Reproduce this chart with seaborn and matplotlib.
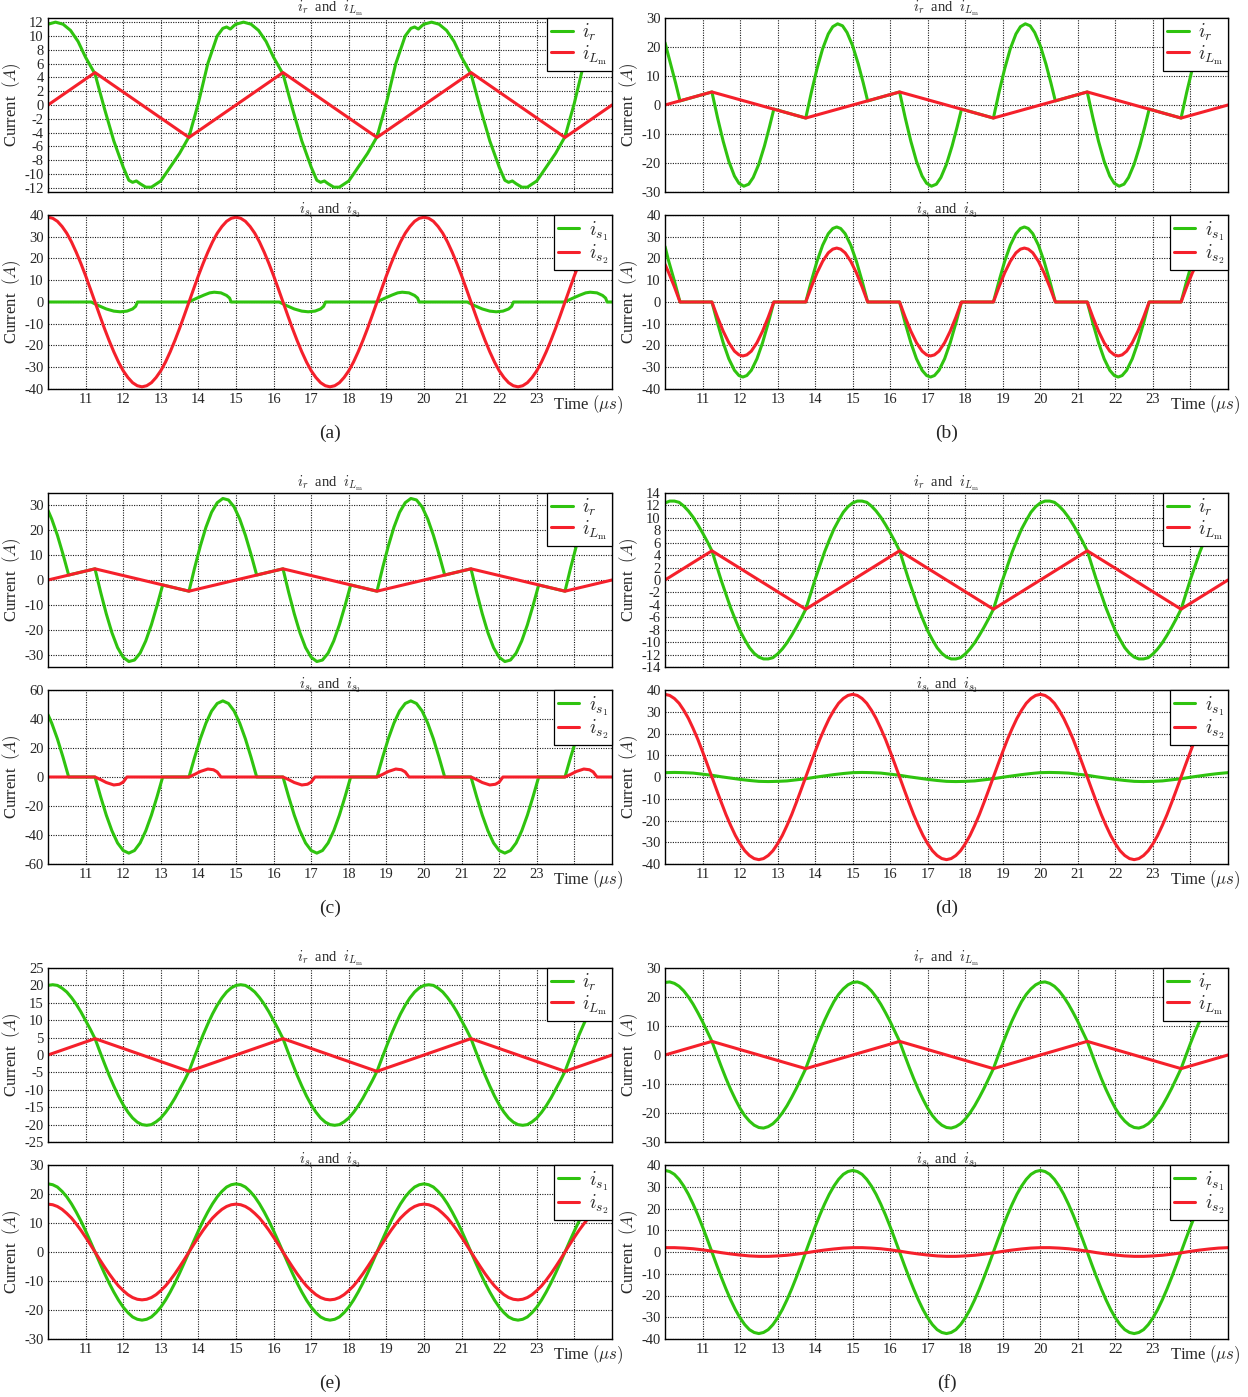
import matplotlib
matplotlib.use("Agg")
import matplotlib.pyplot as plt
import seaborn as sns
from matplotlib.transforms import blended_transform_factory

# ---------------- data ----------------
# sampling instants (us)
t_grid = [round(10 + 0.25 * k, 3) for k in range(61)]
t_fine = [round(10 + 0.125 * k, 3) for k in range(121)]

# magnetising current (triangle) vertices
lm_x = [10.0, 11.25, 13.75, 16.25, 18.75, 21.25, 23.75, 25.0]
lm_a = [0.0, 4.7, -4.7, 4.7, -4.7, 4.7, -4.7, 0.0]
lm_b = [0.0, 4.5, -4.5, 4.5, -4.5, 4.5, -4.5, 0.0]
lm_c = [0.0, 4.5, -4.5, 4.5, -4.5, 4.5, -4.5, 0.0]
lm_d = [0.0, 4.7, -4.7, 4.7, -4.7, 4.7, -4.7, 0.0]
lm_e = [0.0, 4.7, -4.7, 4.7, -4.7, 4.7, -4.7, 0.0]
lm_f = [0.0, 4.7, -4.7, 4.7, -4.7, 4.7, -4.7, 0.0]

# ---- (a)
a_ir_x = [10.0, 10.2, 10.4, 10.6, 10.8, 11.0, 11.25, 11.5, 11.75, 12.0, 12.15, 12.25, 12.35, 12.45,
          12.6, 12.75, 13.0, 13.25, 13.5, 13.75, 14.0, 14.25, 14.5, 14.65, 14.75, 14.85, 14.95,
          15.0, 15.2, 15.4, 15.6, 15.8, 16.0, 16.25, 16.5, 16.75, 17.0, 17.15, 17.25, 17.35, 17.45,
          17.6, 17.75, 18.0, 18.25, 18.5, 18.75, 19.0, 19.25, 19.5, 19.65, 19.75, 19.85, 19.95,
          20.0, 20.2, 20.4, 20.6, 20.8, 21.0, 21.25, 21.5, 21.75, 22.0, 22.15, 22.25, 22.35, 22.45,
          22.6, 22.75, 23.0, 23.25, 23.5, 23.75, 24.0, 24.25, 24.5, 24.65, 24.75, 24.85, 24.95, 25.0]
a_ir_y = [11.7, 12.0, 11.7, 10.8, 9.2, 6.9, 4.5, -0.5, -5.2, -9.0, -10.9, -11.2, -11.0, -11.4,
          -11.9, -11.9, -11.0, -9.0, -7.0, -4.6, 0.3, 6.0, 10.0, 11.1, 11.3, 11.0, 11.5,
          11.7, 12.0, 11.7, 10.8, 9.2, 6.9, 4.5, -0.5, -5.2, -9.0, -10.9, -11.2, -11.0, -11.4,
          -11.9, -11.9, -11.0, -9.0, -7.0, -4.6, 0.3, 6.0, 10.0, 11.1, 11.3, 11.0, 11.5,
          11.7, 12.0, 11.7, 10.8, 9.2, 6.9, 4.5, -0.5, -5.2, -9.0, -10.9, -11.2, -11.0, -11.4,
          -11.9, -11.9, -11.0, -9.0, -7.0, -4.6, 0.3, 6.0, 10.0, 11.1, 11.3, 11.0, 11.5, 11.7]
a_is1_x = [10.0, 11.15, 11.35, 11.55, 11.75, 11.92, 12.1, 12.25, 12.33, 12.38,
           13.74, 13.95, 14.15, 14.3, 14.42, 14.6, 14.75, 14.83, 14.87,
           15.0, 16.15, 16.35, 16.55, 16.75, 16.92, 17.1, 17.25, 17.33, 17.38,
           18.74, 18.95, 19.15, 19.3, 19.42, 19.6, 19.75, 19.83, 19.87,
           20.0, 21.15, 21.35, 21.55, 21.75, 21.92, 22.1, 22.25, 22.33, 22.38,
           23.74, 23.95, 24.15, 24.3, 24.42, 24.6, 24.75, 24.83, 24.87, 25.0]
a_is1_y = [0.0, 0.0, -1.7, -3.2, -4.2, -4.5, -4.2, -3.2, -2.0, 0.0,
           0.0, 1.7, 3.2, 4.2, 4.5, 4.2, 3.0, 1.8, 0.0,
           0.0, 0.0, -1.7, -3.2, -4.2, -4.5, -4.2, -3.2, -2.0, 0.0,
           0.0, 1.7, 3.2, 4.2, 4.5, 4.2, 3.0, 1.8, 0.0,
           0.0, 0.0, -1.7, -3.2, -4.2, -4.5, -4.2, -3.2, -2.0, 0.0,
           0.0, 1.7, 3.2, 4.2, 4.5, 4.2, 3.0, 1.8, 0.0, 0.0]
a_is2_y = [39.0, 38.5, 37.1, 34.7, 31.6, 27.6, 22.9, 17.7, 12.1, 6.1, 0.0, -6.1, -12.1, -17.7, -22.9, -27.6, -31.6, -34.7, -37.1, -38.5,
           -39.0, -38.5, -37.1, -34.7, -31.6, -27.6, -22.9, -17.7, -12.1, -6.1, 0.0, 6.1, 12.1, 17.7, 22.9, 27.6, 31.6, 34.7, 37.1, 38.5,
           39.0, 38.5, 37.1, 34.7, 31.6, 27.6, 22.9, 17.7, 12.1, 6.1, 0.0, -6.1, -12.1, -17.7, -22.9, -27.6, -31.6, -34.7, -37.1, -38.5,
           -39.0, -38.5, -37.1, -34.7, -31.6, -27.6, -22.9, -17.7, -12.1, -6.1, 0.0, 6.1, 12.1, 17.7, 22.9, 27.6, 31.6, 34.7, 37.1, 38.5,
           39.0, 38.5, 37.1, 34.7, 31.6, 27.6, 22.9, 17.7, 12.1, 6.1, 0.0, -6.1, -12.1, -17.7, -22.9, -27.6, -31.6, -34.7, -37.1, -38.5,
           -39.0, -38.5, -37.1, -34.7, -31.6, -27.6, -22.9, -17.7, -12.1, -6.1, 0.0, 6.1, 12.1, 17.7, 22.9, 27.6, 31.6, 34.7, 37.1, 38.5,
           39.0]

# ---- (b)
b_ir_x = [10.0, 10.15, 10.28, 10.4,
          11.25, 11.4, 11.55, 11.7, 11.85, 11.97, 12.1, 12.23, 12.35, 12.5, 12.65, 12.78, 12.9,
          13.75, 13.9, 14.05, 14.2, 14.35, 14.47, 14.6, 14.73, 14.85, 15.0, 15.15, 15.28, 15.4,
          16.25, 16.4, 16.55, 16.7, 16.85, 16.97, 17.1, 17.23, 17.35, 17.5, 17.65, 17.78, 17.9,
          18.75, 18.9, 19.05, 19.2, 19.35, 19.47, 19.6, 19.73, 19.85, 20.0, 20.15, 20.28, 20.4,
          21.25, 21.4, 21.55, 21.7, 21.85, 21.97, 22.1, 22.23, 22.35, 22.5, 22.65, 22.78, 22.9,
          23.75, 23.9, 24.05, 24.2, 24.35, 24.47, 24.6, 24.73, 24.85, 25.0]
b_ir_y = [21.5, 14.1, 7.7, 1.4,
          4.5, -4.4, -12.5, -19.4, -24.5, -27.0, -28.0, -27.3, -25.0, -20.4, -14.1, -7.7, -1.4,
          -4.5, 4.4, 12.5, 19.4, 24.5, 27.0, 28.0, 27.3, 25.0, 20.4, 14.1, 7.7, 1.4,
          4.5, -4.4, -12.5, -19.4, -24.5, -27.0, -28.0, -27.3, -25.0, -20.4, -14.1, -7.7, -1.4,
          -4.5, 4.4, 12.5, 19.4, 24.5, 27.0, 28.0, 27.3, 25.0, 20.4, 14.1, 7.7, 1.4,
          4.5, -4.4, -12.5, -19.4, -24.5, -27.0, -28.0, -27.3, -25.0, -20.4, -14.1, -7.7, -1.4,
          -4.5, 4.4, 12.5, 19.4, 24.5, 27.0, 28.0, 27.3, 25.0, 21.0]
b_is_x = [10.0, 10.1, 10.25, 10.4,
          11.25, 11.4, 11.55, 11.7, 11.85, 11.97, 12.075, 12.18, 12.3, 12.45, 12.6, 12.75, 12.9,
          13.75, 13.9, 14.05, 14.2, 14.35, 14.47, 14.575, 14.68, 14.8, 14.95, 15.1, 15.25, 15.4,
          16.25, 16.4, 16.55, 16.7, 16.85, 16.97, 17.075, 17.18, 17.3, 17.45, 17.6, 17.75, 17.9,
          18.75, 18.9, 19.05, 19.2, 19.35, 19.47, 19.575, 19.68, 19.8, 19.95, 20.1, 20.25, 20.4,
          21.25, 21.4, 21.55, 21.7, 21.85, 21.97, 22.075, 22.18, 22.3, 22.45, 22.6, 22.75, 22.9,
          23.75, 23.9, 24.05, 24.2, 24.35, 24.47, 24.575, 24.68, 24.8, 24.95, 25.0]
b_is1_y = [25.5, 18.7, 9.7, 0.0,
           0.0, -9.7, -18.7, -26.1, -31.4, -33.8, -34.5, -33.8, -31.4, -26.1, -18.7, -9.7, 0.0,
           0.0, 9.7, 18.7, 26.1, 31.4, 33.8, 34.5, 33.8, 31.4, 26.1, 18.7, 9.7, 0.0,
           0.0, -9.7, -18.7, -26.1, -31.4, -33.8, -34.5, -33.8, -31.4, -26.1, -18.7, -9.7, 0.0,
           0.0, 9.7, 18.7, 26.1, 31.4, 33.8, 34.5, 33.8, 31.4, 26.1, 18.7, 9.7, 0.0,
           0.0, -9.7, -18.7, -26.1, -31.4, -33.8, -34.5, -33.8, -31.4, -26.1, -18.7, -9.7, 0.0,
           0.0, 9.7, 18.7, 26.1, 31.4, 33.8, 34.5, 33.8, 31.4, 26.1, 24.0]
b_is2_y = [17.3, 13.4, 7.0, 0.0,
           0.0, -7.0, -13.4, -18.7, -22.6, -24.3, -24.8, -24.3, -22.6, -18.7, -13.4, -7.0, 0.0,
           0.0, 7.0, 13.4, 18.7, 22.6, 24.3, 24.8, 24.3, 22.6, 18.7, 13.4, 7.0, 0.0,
           0.0, -7.0, -13.4, -18.7, -22.6, -24.3, -24.8, -24.3, -22.6, -18.7, -13.4, -7.0, 0.0,
           0.0, 7.0, 13.4, 18.7, 22.6, 24.3, 24.8, 24.3, 22.6, 18.7, 13.4, 7.0, 0.0,
           0.0, -7.0, -13.4, -18.7, -22.6, -24.3, -24.8, -24.3, -22.6, -18.7, -13.4, -7.0, 0.0,
           0.0, 7.0, 13.4, 18.7, 22.6, 24.3, 24.8, 24.3, 22.6, 18.7, 17.3]

# ---- (c)
c_x = [10.0, 10.1, 10.25, 10.4, 10.55,
       11.25, 11.4, 11.55, 11.7, 11.85, 12.0, 12.15, 12.3, 12.45, 12.6, 12.75, 12.9, 13.05,
       13.75, 13.9, 14.05, 14.2, 14.35, 14.5, 14.65, 14.8, 14.95, 15.1, 15.25, 15.4, 15.55,
       16.25, 16.4, 16.55, 16.7, 16.85, 17.0, 17.15, 17.3, 17.45, 17.6, 17.75, 17.9, 18.05,
       18.75, 18.9, 19.05, 19.2, 19.35, 19.5, 19.65, 19.8, 19.95, 20.1, 20.25, 20.4, 20.55,
       21.25, 21.4, 21.55, 21.7, 21.85, 22.0, 22.15, 22.3, 22.45, 22.6, 22.75, 22.9, 23.05,
       23.75, 23.9, 24.05, 24.2, 24.35, 24.5, 24.65, 24.8, 24.95, 25.0]
c_ir_y = [28.0, 24.5, 18.0, 10.3, 2.0,
          4.5, -4.9, -13.6, -21.2, -27.2, -31.1, -32.8, -32.2, -29.4, -24.5, -18.0, -10.3, -2.0,
          -4.5, 4.9, 13.6, 21.2, 27.2, 31.1, 32.8, 32.2, 29.4, 24.5, 18.0, 10.3, 2.0,
          4.5, -4.9, -13.6, -21.2, -27.2, -31.1, -32.8, -32.2, -29.4, -24.5, -18.0, -10.3, -2.0,
          -4.5, 4.9, 13.6, 21.2, 27.2, 31.1, 32.8, 32.2, 29.4, 24.5, 18.0, 10.3, 2.0,
          4.5, -4.9, -13.6, -21.2, -27.2, -31.1, -32.8, -32.2, -29.4, -24.5, -18.0, -10.3, -2.0,
          -4.5, 4.9, 13.6, 21.2, 27.2, 31.1, 32.8, 32.2, 29.4, 28.0]
c_is1_y = [43.0, 37.1, 26.3, 13.6, 0.0,
           0.0, -13.6, -26.3, -37.1, -45.5, -50.7, -52.5, -50.7, -45.5, -37.1, -26.3, -13.6, 0.0,
           0.0, 13.6, 26.3, 37.1, 45.5, 50.7, 52.5, 50.7, 45.5, 37.1, 26.3, 13.6, 0.0,
           0.0, -13.6, -26.3, -37.1, -45.5, -50.7, -52.5, -50.7, -45.5, -37.1, -26.3, -13.6, 0.0,
           0.0, 13.6, 26.3, 37.1, 45.5, 50.7, 52.5, 50.7, 45.5, 37.1, 26.3, 13.6, 0.0,
           0.0, -13.6, -26.3, -37.1, -45.5, -50.7, -52.5, -50.7, -45.5, -37.1, -26.3, -13.6, 0.0,
           0.0, 13.6, 26.3, 37.1, 45.5, 50.7, 52.5, 50.7, 45.5, 43.0]
c_is2_x = [10.0, 11.25, 11.4, 11.55, 11.75, 11.9, 12.0, 12.1,
           13.75, 13.9, 14.05, 14.25, 14.4, 14.5, 14.6,
           16.25, 16.4, 16.55, 16.75, 16.9, 17.0, 17.1,
           18.75, 18.9, 19.05, 19.25, 19.4, 19.5, 19.6,
           21.25, 21.4, 21.55, 21.75, 21.9, 22.0, 22.1,
           23.75, 23.9, 24.05, 24.25, 24.4, 24.5, 24.6, 25.0]
c_is2_y = [0.0, 0.0, -1.8, -3.8, -5.5, -5.0, -3.5, 0.0,
           0.0, 1.8, 3.8, 5.5, 5.0, 3.5, 0.0,
           0.0, -1.8, -3.8, -5.5, -5.0, -3.5, 0.0,
           0.0, 1.8, 3.8, 5.5, 5.0, 3.5, 0.0,
           0.0, -1.8, -3.8, -5.5, -5.0, -3.5, 0.0,
           0.0, 1.8, 3.8, 5.5, 5.0, 3.5, 0.0, 0.0]

# ---- (d)
d_ir_y = [12.4, 12.7, 12.7, 12.5, 11.9, 11.1, 10.1, 8.9, 7.6, 6.2, 4.7, 2.3, -0.1, -2.3, -4.5, -6.4, -8.2, -9.6, -10.9, -11.8,
          -12.4, -12.7, -12.7, -12.5, -11.9, -11.1, -10.1, -8.9, -7.6, -6.2, -4.7, -2.3, 0.1, 2.3, 4.5, 6.4, 8.2, 9.6, 10.9, 11.8,
          12.4, 12.7, 12.7, 12.5, 11.9, 11.1, 10.1, 8.9, 7.6, 6.2, 4.7, 2.3, -0.1, -2.3, -4.5, -6.4, -8.2, -9.6, -10.9, -11.8,
          -12.4, -12.7, -12.7, -12.5, -11.9, -11.1, -10.1, -8.9, -7.6, -6.2, -4.7, -2.3, 0.1, 2.3, 4.5, 6.4, 8.2, 9.6, 10.9, 11.8,
          12.4, 12.7, 12.7, 12.5, 11.9, 11.1, 10.1, 8.9, 7.6, 6.2, 4.7, 2.3, -0.1, -2.3, -4.5, -6.4, -8.2, -9.6, -10.9, -11.8,
          -12.4, -12.7, -12.7, -12.5, -11.9, -11.1, -10.1, -8.9, -7.6, -6.2, -4.7, -2.3, 0.1, 2.3, 4.5, 6.4, 8.2, 9.6, 10.9, 11.8,
          12.4]
d_is1_y = [2.0, 2.1, 2.0, 1.8, 1.3, 0.8, 0.1, -0.5, -1.1, -1.6,
           -2.0, -2.1, -2.0, -1.8, -1.3, -0.8, -0.1, 0.5, 1.1, 1.6,
           2.0, 2.1, 2.0, 1.8, 1.3, 0.8, 0.1, -0.5, -1.1, -1.6,
           -2.0, -2.1, -2.0, -1.8, -1.3, -0.8, -0.1, 0.5, 1.1, 1.6,
           2.0, 2.1, 2.0, 1.8, 1.3, 0.8, 0.1, -0.5, -1.1, -1.6,
           -2.0, -2.1, -2.0, -1.8, -1.3, -0.8, -0.1, 0.5, 1.1, 1.6, 2.0]
d_is2_y = [38.0, 37.5, 36.1, 33.9, 30.7, 26.9, 22.3, 17.3, 11.7, 5.9, 0.0, -5.9, -11.7, -17.3, -22.3, -26.9, -30.7, -33.9, -36.1, -37.5,
           -38.0, -37.5, -36.1, -33.9, -30.7, -26.9, -22.3, -17.3, -11.7, -5.9, 0.0, 5.9, 11.7, 17.3, 22.3, 26.9, 30.7, 33.9, 36.1, 37.5,
           38.0, 37.5, 36.1, 33.9, 30.7, 26.9, 22.3, 17.3, 11.7, 5.9, 0.0, -5.9, -11.7, -17.3, -22.3, -26.9, -30.7, -33.9, -36.1, -37.5,
           -38.0, -37.5, -36.1, -33.9, -30.7, -26.9, -22.3, -17.3, -11.7, -5.9, 0.0, 5.9, 11.7, 17.3, 22.3, 26.9, 30.7, 33.9, 36.1, 37.5,
           38.0, 37.5, 36.1, 33.9, 30.7, 26.9, 22.3, 17.3, 11.7, 5.9, 0.0, -5.9, -11.7, -17.3, -22.3, -26.9, -30.7, -33.9, -36.1, -37.5,
           -38.0, -37.5, -36.1, -33.9, -30.7, -26.9, -22.3, -17.3, -11.7, -5.9, 0.0, 5.9, 11.7, 17.3, 22.3, 26.9, 30.7, 33.9, 36.1, 37.5,
           38.0]

# ---- (e)
e_ir_y = [20.0, 20.2, 20.0, 19.2, 18.1, 16.5, 14.6, 12.4, 9.9, 7.4, 4.7, 1.1, -2.4, -5.8, -8.9, -11.8, -14.3, -16.4, -18.1, -19.3,
          -20.0, -20.2, -20.0, -19.2, -18.1, -16.5, -14.6, -12.4, -9.9, -7.4, -4.7, -1.1, 2.4, 5.8, 8.9, 11.8, 14.3, 16.4, 18.1, 19.3,
          20.0, 20.2, 20.0, 19.2, 18.1, 16.5, 14.6, 12.4, 9.9, 7.4, 4.7, 1.1, -2.4, -5.8, -8.9, -11.8, -14.3, -16.4, -18.1, -19.3,
          -20.0, -20.2, -20.0, -19.2, -18.1, -16.5, -14.6, -12.4, -9.9, -7.4, -4.7, -1.1, 2.4, 5.8, 8.9, 11.8, 14.3, 16.4, 18.1, 19.3,
          20.0, 20.2, 20.0, 19.2, 18.1, 16.5, 14.6, 12.4, 9.9, 7.4, 4.7, 1.1, -2.4, -5.8, -8.9, -11.8, -14.3, -16.4, -18.1, -19.3,
          -20.0, -20.2, -20.0, -19.2, -18.1, -16.5, -14.6, -12.4, -9.9, -7.4, -4.7, -1.1, 2.4, 5.8, 8.9, 11.8, 14.3, 16.4, 18.1, 19.3,
          20.0]
e_is1_y = [23.5, 23.2, 22.4, 20.9, 19.0, 16.6, 13.8, 10.7, 7.3, 3.7, 0.0, -3.7, -7.3, -10.7, -13.8, -16.6, -19.0, -20.9, -22.4, -23.2,
           -23.5, -23.2, -22.4, -20.9, -19.0, -16.6, -13.8, -10.7, -7.3, -3.7, 0.0, 3.7, 7.3, 10.7, 13.8, 16.6, 19.0, 20.9, 22.4, 23.2,
           23.5, 23.2, 22.4, 20.9, 19.0, 16.6, 13.8, 10.7, 7.3, 3.7, 0.0, -3.7, -7.3, -10.7, -13.8, -16.6, -19.0, -20.9, -22.4, -23.2,
           -23.5, -23.2, -22.4, -20.9, -19.0, -16.6, -13.8, -10.7, -7.3, -3.7, 0.0, 3.7, 7.3, 10.7, 13.8, 16.6, 19.0, 20.9, 22.4, 23.2,
           23.5, 23.2, 22.4, 20.9, 19.0, 16.6, 13.8, 10.7, 7.3, 3.7, 0.0, -3.7, -7.3, -10.7, -13.8, -16.6, -19.0, -20.9, -22.4, -23.2,
           -23.5, -23.2, -22.4, -20.9, -19.0, -16.6, -13.8, -10.7, -7.3, -3.7, 0.0, 3.7, 7.3, 10.7, 13.8, 16.6, 19.0, 20.9, 22.4, 23.2,
           23.5]
e_is2_y = [16.5, 16.3, 15.7, 14.7, 13.3, 11.7, 9.7, 7.5, 5.1, 2.6, 0.0, -2.6, -5.1, -7.5, -9.7, -11.7, -13.3, -14.7, -15.7, -16.3,
           -16.5, -16.3, -15.7, -14.7, -13.3, -11.7, -9.7, -7.5, -5.1, -2.6, 0.0, 2.6, 5.1, 7.5, 9.7, 11.7, 13.3, 14.7, 15.7, 16.3,
           16.5, 16.3, 15.7, 14.7, 13.3, 11.7, 9.7, 7.5, 5.1, 2.6, 0.0, -2.6, -5.1, -7.5, -9.7, -11.7, -13.3, -14.7, -15.7, -16.3,
           -16.5, -16.3, -15.7, -14.7, -13.3, -11.7, -9.7, -7.5, -5.1, -2.6, 0.0, 2.6, 5.1, 7.5, 9.7, 11.7, 13.3, 14.7, 15.7, 16.3,
           16.5, 16.3, 15.7, 14.7, 13.3, 11.7, 9.7, 7.5, 5.1, 2.6, 0.0, -2.6, -5.1, -7.5, -9.7, -11.7, -13.3, -14.7, -15.7, -16.3,
           -16.5, -16.3, -15.7, -14.7, -13.3, -11.7, -9.7, -7.5, -5.1, -2.6, 0.0, 2.6, 5.1, 7.5, 9.7, 11.7, 13.3, 14.7, 15.7, 16.3,
           16.5]

# ---- (f)
f_ir_y = [25.0, 25.2, 24.7, 23.7, 22.1, 20.0, 17.5, 14.6, 11.5, 8.1, 4.7, 0.3, -4.0, -8.1, -11.9, -15.3, -18.4, -20.9, -22.8, -24.2,
          -25.0, -25.2, -24.7, -23.7, -22.1, -20.0, -17.5, -14.6, -11.5, -8.1, -4.7, -0.3, 4.0, 8.1, 11.9, 15.3, 18.4, 20.9, 22.8, 24.2,
          25.0, 25.2, 24.7, 23.7, 22.1, 20.0, 17.5, 14.6, 11.5, 8.1, 4.7, 0.3, -4.0, -8.1, -11.9, -15.3, -18.4, -20.9, -22.8, -24.2,
          -25.0, -25.2, -24.7, -23.7, -22.1, -20.0, -17.5, -14.6, -11.5, -8.1, -4.7, -0.3, 4.0, 8.1, 11.9, 15.3, 18.4, 20.9, 22.8, 24.2,
          25.0, 25.2, 24.7, 23.7, 22.1, 20.0, 17.5, 14.6, 11.5, 8.1, 4.7, 0.3, -4.0, -8.1, -11.9, -15.3, -18.4, -20.9, -22.8, -24.2,
          -25.0, -25.2, -24.7, -23.7, -22.1, -20.0, -17.5, -14.6, -11.5, -8.1, -4.7, -0.3, 4.0, 8.1, 11.9, 15.3, 18.4, 20.9, 22.8, 24.2,
          25.0]
f_is1_y = [37.5, 37.0, 35.7, 33.4, 30.3, 26.5, 22.0, 17.0, 11.6, 5.9, 0.0, -5.9, -11.6, -17.0, -22.0, -26.5, -30.3, -33.4, -35.7, -37.0,
           -37.5, -37.0, -35.7, -33.4, -30.3, -26.5, -22.0, -17.0, -11.6, -5.9, 0.0, 5.9, 11.6, 17.0, 22.0, 26.5, 30.3, 33.4, 35.7, 37.0,
           37.5, 37.0, 35.7, 33.4, 30.3, 26.5, 22.0, 17.0, 11.6, 5.9, 0.0, -5.9, -11.6, -17.0, -22.0, -26.5, -30.3, -33.4, -35.7, -37.0,
           -37.5, -37.0, -35.7, -33.4, -30.3, -26.5, -22.0, -17.0, -11.6, -5.9, 0.0, 5.9, 11.6, 17.0, 22.0, 26.5, 30.3, 33.4, 35.7, 37.0,
           37.5, 37.0, 35.7, 33.4, 30.3, 26.5, 22.0, 17.0, 11.6, 5.9, 0.0, -5.9, -11.6, -17.0, -22.0, -26.5, -30.3, -33.4, -35.7, -37.0,
           -37.5, -37.0, -35.7, -33.4, -30.3, -26.5, -22.0, -17.0, -11.6, -5.9, 0.0, 5.9, 11.6, 17.0, 22.0, 26.5, 30.3, 33.4, 35.7, 37.0,
           37.5]
f_is2_y = [2.0, 2.0, 1.8, 1.5, 1.0, 0.4, -0.3, -0.9, -1.4, -1.8,
           -2.0, -2.0, -1.8, -1.5, -1.0, -0.4, 0.3, 0.9, 1.4, 1.8,
           2.0, 2.0, 1.8, 1.5, 1.0, 0.4, -0.3, -0.9, -1.4, -1.8,
           -2.0, -2.0, -1.8, -1.5, -1.0, -0.4, 0.3, 0.9, 1.4, 1.8,
           2.0, 2.0, 1.8, 1.5, 1.0, 0.4, -0.3, -0.9, -1.4, -1.8,
           -2.0, -2.0, -1.8, -1.5, -1.0, -0.4, 0.3, 0.9, 1.4, 1.8, 2.0]

x_tick_labels = ["11", "12", "13", "14", "15", "16", "17", "18", "19", "20", "21", "22", "23"]

# ---------------- style ----------------
sns.set_theme(style="white")
plt.rcParams["font.family"] = ["Liberation Serif", "DejaVu Serif"]
plt.rcParams["mathtext.fontset"] = "cm"
plt.rcParams["axes.unicode_minus"] = False

GREEN = "#2fc30f"
RED = "#f5202b"
LW = 2.2

L_IR, L_LM = r"$i_r$", r"$i_{L_{\rm m}}$"
L_S1, L_S2 = r"$i_{s_1}$", r"$i_{s_2}$"
T_TOP = r"$i_r$  and  $i_{L_{\rm m}}$"
T_BOT = r"$i_{s_1}$ and  $i_{s_2}$"

panels = [
    ("(a)", 0, 0,
     dict(ylim=(-12.6, 12.6), yticks=list(range(-12, 13, 2)),
          lines=[(a_ir_x, a_ir_y, GREEN, L_IR), (lm_x, lm_a, RED, L_LM)]),
     dict(ylim=(-40, 40), yticks=list(range(-40, 41, 10)),
          lines=[(a_is1_x, a_is1_y, GREEN, L_S1), (t_fine, a_is2_y, RED, L_S2)])),
    ("(b)", 1, 0,
     dict(ylim=(-30, 30), yticks=list(range(-30, 31, 10)),
          lines=[(b_ir_x, b_ir_y, GREEN, L_IR), (lm_x, lm_b, RED, L_LM)]),
     dict(ylim=(-40, 40), yticks=list(range(-40, 41, 10)),
          lines=[(b_is_x, b_is1_y, GREEN, L_S1), (b_is_x, b_is2_y, RED, L_S2)])),
    ("(c)", 0, 1,
     dict(ylim=(-35, 35), yticks=list(range(-30, 31, 10)),
          lines=[(c_x, c_ir_y, GREEN, L_IR), (lm_x, lm_c, RED, L_LM)]),
     dict(ylim=(-60, 60), yticks=list(range(-60, 61, 20)),
          lines=[(c_x, c_is1_y, GREEN, L_S1), (c_is2_x, c_is2_y, RED, L_S2)])),
    ("(d)", 1, 1,
     dict(ylim=(-14, 14), yticks=list(range(-14, 15, 2)),
          lines=[(t_fine, d_ir_y, GREEN, L_IR), (lm_x, lm_d, RED, L_LM)]),
     dict(ylim=(-40, 40), yticks=list(range(-40, 41, 10)),
          lines=[(t_grid, d_is1_y, GREEN, L_S1), (t_fine, d_is2_y, RED, L_S2)])),
    ("(e)", 0, 2,
     dict(ylim=(-25, 25), yticks=list(range(-25, 26, 5)),
          lines=[(t_fine, e_ir_y, GREEN, L_IR), (lm_x, lm_e, RED, L_LM)]),
     dict(ylim=(-30, 30), yticks=list(range(-30, 31, 10)),
          lines=[(t_fine, e_is1_y, GREEN, L_S1), (t_fine, e_is2_y, RED, L_S2)])),
    ("(f)", 1, 2,
     dict(ylim=(-30, 30), yticks=list(range(-30, 31, 10)),
          lines=[(t_fine, f_ir_y, GREEN, L_IR), (lm_x, lm_f, RED, L_LM)]),
     dict(ylim=(-40, 40), yticks=list(range(-40, 41, 10)),
          lines=[(t_fine, f_is1_y, GREEN, L_S1), (t_grid, f_is2_y, RED, L_S2)])),
]

# ---------------- layout ----------------
W, H = 1248, 1397
fig = plt.figure(figsize=(W / 100, H / 100), dpi=100)
fig.patch.set_facecolor("white")

COLS = [(48, 612), (665, 1228)]
ROW_OFF = [0, 475, 950]
TOP_Y = (18, 192)
BOT_Y = (215, 389)


def px_axes(x0, x1, y0, y1):
    return fig.add_axes([x0 / W, 1 - y1 / H, (x1 - x0) / W, (y1 - y0) / H])


def draw(ax, spec, title, bottom):
    for x, y, c, lab in spec["lines"]:
        sns.lineplot(x=x, y=y, ax=ax, color=c, linewidth=LW, label=lab,
                     estimator=None, sort=False, legend=False)
    ax.set_xlim(10, 25)
    ax.set_ylim(*spec["ylim"])
    ax.set_xticks(list(range(11, 25)))
    ax.set_yticks(spec["yticks"])
    ax.set_yticklabels([str(v) for v in spec["yticks"]])
    if bottom:
        ax.set_xticklabels(x_tick_labels + [""])
    else:
        ax.set_xticklabels([""] * 14)
    ax.grid(True, color="#1a1a1a", linestyle=(0, (1.0, 1.2)), linewidth=0.8)
    ax.set_axisbelow(True)
    ax.set_xlabel("")
    ax.set_ylabel(r"Current $\;(A)$", fontsize=12, labelpad=1)
    ax.set_title(title, fontsize=10.5, pad=1)
    ax.tick_params(length=0, labelsize=10.5, pad=3)
    for s in ax.spines.values():
        s.set_visible(True)
        s.set_color("black")
        s.set_linewidth(1.0)
    leg = ax.legend(loc="upper right", borderaxespad=0, fancybox=False,
                    edgecolor="black", framealpha=1, fontsize=14,
                    handlelength=1.1, handletextpad=0.5, borderpad=0.2,
                    labelspacing=0.0)
    leg.get_frame().set_linewidth(0.9)
    if bottom:
        trans = blended_transform_factory(ax.transData, ax.transAxes)
        ax.annotate(r"Time $(\mu s)$", xy=(24.38, 0), xycoords=trans,
                    xytext=(0, -3), textcoords="offset points",
                    ha="center", va="top", fontsize=12, annotation_clip=False)


for tag, col, row, top, bot in panels:
    x0, x1 = COLS[col]
    off = ROW_OFF[row]
    ax_t = px_axes(x0, x1, off + TOP_Y[0], off + TOP_Y[1])
    ax_b = px_axes(x0, x1, off + BOT_Y[0], off + BOT_Y[1])
    draw(ax_t, top, T_TOP, False)
    draw(ax_b, bot, T_BOT, True)
    cx = (x0 + x1) / 2
    fig.text(cx / W, 1 - (off + 433) / H, tag, ha="center", va="center", fontsize=14)

fig.savefig("out.png", dpi=100, facecolor="white")
